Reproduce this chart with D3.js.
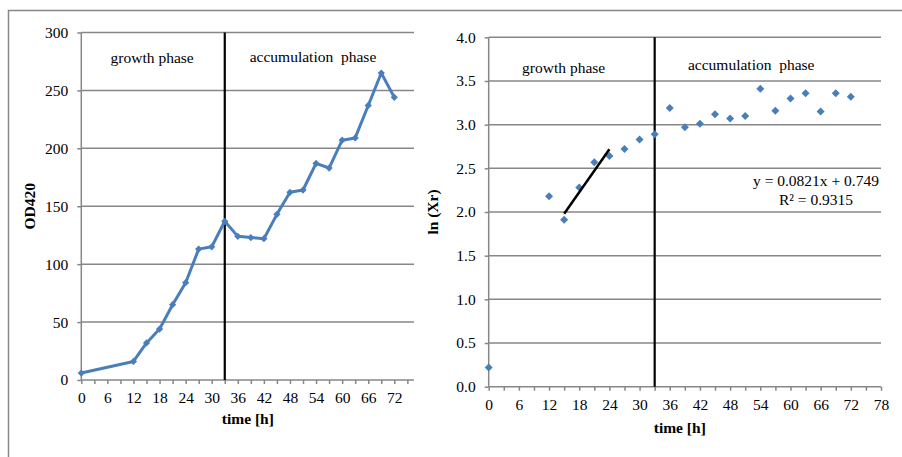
<!DOCTYPE html>
<html>
<head>
<meta charset="utf-8">
<script src="https://cdn.jsdelivr.net/npm/d3@7"></script>
<style>
  body { margin: 0; background: #fff; }
  svg text { font-family: "Liberation Serif", "Times New Roman", serif; fill: #000; }
</style>
</head>
<body>
<svg id="chart" width="902" height="457"></svg>
<script>
// sampling times (h)
const timeH = [0, 12, 15, 18, 21, 24, 27, 30, 33, 36, 39, 42, 45, 48, 51, 54, 57, 60, 63, 66, 69, 72];
// left panel: OD420
const od420 = [6, 16, 32, 44, 65, 84, 113, 115, 137, 124, 123, 122, 143, 162, 164, 187, 183, 207, 209, 237, 265, 244];
// right panel: ln(Xr)
const lnXr = [0.22, 2.18, 1.91, 2.28, 2.57, 2.64, 2.72, 2.83, 2.89, 3.19, 2.97, 3.01, 3.12, 3.07, 3.10, 3.41, 3.16, 3.30, 3.36, 3.15, 3.36, 3.32];

const xTicks = d3.range(0, 79, 3);          // minor every 3 h, labels every 6 h
const odTicks = [0, 50, 100, 150, 200, 250, 300];
const lnTicks = [0, 0.5, 1.0, 1.5, 2.0, 2.5, 3.0, 3.5, 4.0];
const phaseSplit = 33;                      // end of growth phase (h)
const trendRange = [15, 24];
const trendSlope = 0.0821, trendIntercept = 0.749;
const eqText = "y = 0.0821x + 0.749";
const r2Text = "R\u00B2 = 0.9315";

const gridColor = "#878787";
const blue = "#4a7ebb";
const fontSize = "15.5px";

const svg = d3.select("#chart");

// outer frame (only top and left edges show in the crop)
svg.append("path")
    .attr("d", "M8.5,457 V10.5 H902")
    .attr("fill", "none")
    .attr("stroke", gridColor)
    .attr("stroke-width", 1.5);

function drawPanel(opts) {
    const g = svg.append("g");
    if (opts.clipRight) {
        svg.append("clipPath").attr("id", opts.id + "-clip")
            .append("rect").attr("x", 0).attr("y", 0).attr("width", opts.clipRight).attr("height", 457);
        g.attr("clip-path", `url(#${opts.id}-clip)`);
    }

    const x = d3.scaleLinear().domain([0, 78]).range(opts.xRange);
    const y = d3.scaleLinear().domain(opts.yDomain).range(opts.yRange);
    const plotRight = opts.plotRight || opts.xRange[1];

    // horizontal gridlines
    g.append("g").selectAll("line")
        .data(opts.yTicks.filter(d => d !== 0))
        .join("line")
        .attr("x1", x(0)).attr("x2", plotRight)
        .attr("y1", d => y(d)).attr("y2", d => y(d))
        .attr("stroke", gridColor).attr("stroke-width", 1.5);

    // y axis
    const yAxis = g.append("g")
        .attr("transform", `translate(${x(0)},0)`)
        .call(d3.axisLeft(y).tickValues(opts.yTicks).tickFormat(opts.yFormat).tickSize(4).tickSizeOuter(0).tickPadding(9));
    // x axis
    const xAxis = g.append("g")
        .attr("transform", `translate(0,${y(0)})`)
        .call(d3.axisBottom(x).tickValues(xTicks).tickFormat(d => d % 6 === 0 ? d : "").tickSize(4).tickSizeOuter(0).tickPadding(8));
    [yAxis, xAxis].forEach(a => {
        a.selectAll("path, line").attr("stroke", gridColor).attr("stroke-width", 1.5);
        a.selectAll("text").style("font-size", fontSize).attr("fill", "#000");
    });
    yAxis.select(".domain").attr("d", `M0,${opts.yRange[0]}V${opts.yRange[1]}`);
    xAxis.select(".domain").attr("d", `M${x(0)},0H${plotRight}`);

    // phase separator
    g.append("line")
        .attr("x1", x(phaseSplit)).attr("x2", x(phaseSplit))
        .attr("y1", y(opts.yDomain[1])).attr("y2", y(0))
        .attr("stroke", "#000").attr("stroke-width", 2.2);

    // phase labels
    g.append("text").attr("x", x(opts.growthX)).attr("y", opts.labelY[0])
        .attr("text-anchor", "middle").style("font-size", fontSize)
        .text("growth phase");
    g.append("text").attr("x", x(opts.accumX)).attr("y", opts.labelY[1])
        .attr("text-anchor", "middle").style("font-size", fontSize).style("white-space", "pre")
        .text("accumulation  phase");

    // axis titles
    g.append("text").attr("x", (x(0) + x(72) + 20) / 2).attr("y", y(0) + opts.titleGap)
        .attr("text-anchor", "middle").style("font-size", fontSize).style("font-weight", "bold")
        .text("time [h]");

    return { g, x, y };
}

// diamond marker: square turned 45 degrees
function addMarkers(panel, values, area) {
    panel.g.append("g").selectAll("path")
        .data(timeH.map((t, i) => [t, values[i]]))
        .join("path")
        .attr("transform", d => `translate(${panel.x(d[0])},${panel.y(d[1])}) rotate(45)`)
        .attr("d", d3.symbol(d3.symbolSquare, area))
        .attr("fill", blue);
}

// ---- left panel ----
const left = drawPanel({
    id: "left", xRange: [81.3, 420.4], yDomain: [0, 300], yRange: [380, 32.5],
    yTicks: odTicks, yFormat: d3.format("d"), clipRight: 414, plotRight: 414,
    growthX: 16.3, accumX: 53.3, labelY: [63, 62], titleGap: 44
});
left.g.append("path")
    .datum(timeH.map((t, i) => [t, od420[i]]))
    .attr("fill", "none").attr("stroke", blue).attr("stroke-width", 3).attr("stroke-linejoin", "round")
    .attr("d", d3.line().x(d => left.x(d[0])).y(d => left.y(d[1])));
addMarkers(left, od420, 26);
svg.append("text")
    .attr("transform", `translate(35,${left.y(150)}) rotate(-90)`)
    .attr("text-anchor", "middle").style("font-size", fontSize).style("font-weight", "bold")
    .text("OD420");

// ---- right panel ----
const right = drawPanel({
    id: "right", xRange: [488.7, 881], yDomain: [0, 4], yRange: [386.7, 37.3],
    yTicks: lnTicks, yFormat: d3.format(".1f"),
    growthX: 14.9, accumX: 52.2, labelY: [73, 70], titleGap: 46
});
addMarkers(right, lnXr, 32);
right.g.append("line")
    .attr("x1", right.x(trendRange[0])).attr("y1", right.y(trendSlope * trendRange[0] + trendIntercept))
    .attr("x2", right.x(trendRange[1])).attr("y2", right.y(trendSlope * trendRange[1] + trendIntercept))
    .attr("stroke", "#000").attr("stroke-width", 2.5);
right.g.append("text").attr("x", 816).attr("y", 186)
    .attr("text-anchor", "middle").style("font-size", fontSize).text(eqText);
right.g.append("text").attr("x", 816).attr("y", 205)
    .attr("text-anchor", "middle").style("font-size", fontSize).text(r2Text);
svg.append("text")
    .attr("transform", `translate(438,${right.y(2)}) rotate(-90)`)
    .attr("text-anchor", "middle").style("font-size", fontSize).style("font-weight", "bold")
    .text("ln (Xr)");
</script>
</body>
</html>
